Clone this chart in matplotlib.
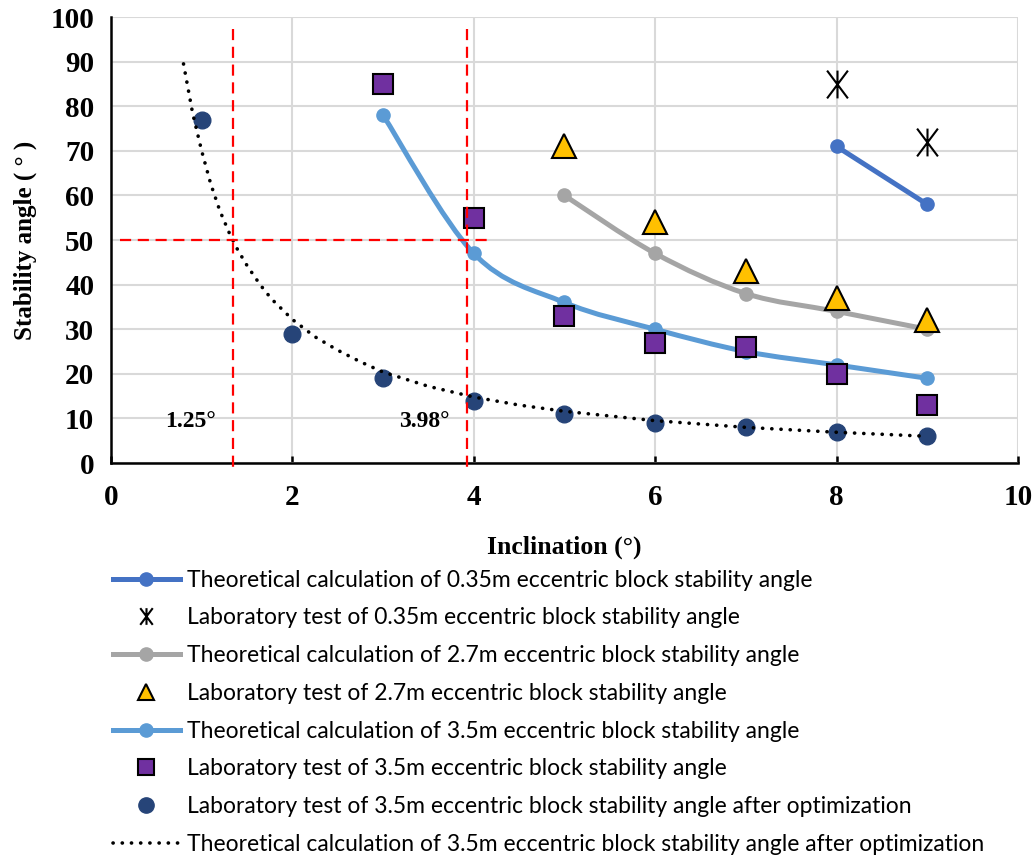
import numpy as np
import matplotlib
matplotlib.use("Agg")
import matplotlib.pyplot as plt
from matplotlib.path import Path
from matplotlib.patches import PathPatch
from matplotlib.lines import Line2D

# theoretical curves
X_035 = [8, 9]
Y_035 = [71, 58]
X_27 = [5, 6, 7, 8, 9]
Y_27 = [60, 47, 38, 34, 30]
X_35 = [3, 4, 5, 6, 7, 8, 9]
Y_35 = [78, 47, 36, 30, 25, 22, 19]

# laboratory tests
LAB_X_035 = [8, 9]
LAB_Y_035 = [85, 72]
LAB_X_27 = [5, 6, 7, 8, 9]
LAB_Y_27 = [71, 54, 43, 37, 32]
LAB_X_35 = [3, 4, 5, 6, 7, 8, 9]
LAB_Y_35 = [85, 55, 33, 27, 26, 20, 13]

# after optimization
OPT_X = [1, 2, 3, 4, 5, 6, 7, 8, 9]
OPT_Y = [77, 29, 19, 14, 11, 9, 8, 7, 6]
TREND_X = [0.8, 0.9, 1.0, 1.1, 1.2, 1.3, 1.4, 1.5, 1.6, 1.7, 1.8, 2.0, 2.25, 2.5, 2.75,
           3.0, 3.5, 4.0, 4.5, 5.0, 6.0, 7.0, 8.0, 9.0]
TREND_Y = [89.5, 78.5, 70.0, 62.6, 56.6, 51.8, 47.7, 44.3, 41.3, 38.5, 36.2, 32.2, 28.3, 25.3, 22.7,
           20.4, 17.2, 14.8, 13.0, 11.6, 9.5, 8.0, 6.9, 6.0]

CRIT_X = [1.345, 3.93]
CRIT_LABELS = ["1.25°", "3.98°"]
CRIT_Y = 50

C_035 = "#4472C4"
C_27 = "#A5A5A5"
C_35 = "#5B9BD5"
C_TRI = "#FFC000"
C_SQ = "#7030A0"
C_OPT = "#264478"

SERIF = "Liberation Serif"
DOTS = (0, (0.05, 2.5))

STAR = Path([(-0.75, -1), (0.75, 1), (-0.75, 1), (0.75, -1), (0, -1), (0, 1)],
            [Path.MOVETO, Path.LINETO, Path.MOVETO, Path.LINETO, Path.MOVETO, Path.LINETO])


def smoothPath(xs, ys):
    """Excel-like smoothed line as cubic bezier path."""
    pts = np.column_stack([xs, ys]).astype(float)
    ext = np.vstack([pts[0], pts, pts[-1]])
    verts = [pts[0]]
    codes = [Path.MOVETO]
    for i in range(len(pts) - 1):
        p0, p1, p2, p3 = ext[i], ext[i + 1], ext[i + 2], ext[i + 3]
        verts += [p1 + (p2 - p0) / 6, p2 - (p3 - p1) / 6, p2]
        codes += [Path.CURVE4] * 3
    return Path(verts, codes)


def smoothLine(ax, xs, ys, color):
    ax.add_patch(PathPatch(smoothPath(xs, ys), facecolor="none", edgecolor=color,
                           lw=3.6, capstyle="round", zorder=3))
    ax.plot(xs, ys, "o", color=color, ms=9.5, zorder=3)


fig = plt.figure(figsize=(10.35, 8.57), dpi=100)
ax = fig.add_axes([0.1072, 0.4597, 0.8763, 0.5204])

smoothLine(ax, X_035, Y_035, C_035)
smoothLine(ax, X_27, Y_27, C_27)
smoothLine(ax, X_35, Y_35, C_35)

ax.plot(LAB_X_035, LAB_Y_035, ls="none", marker=STAR, ms=20, mec="black", mew=1.5, zorder=5)
ax.plot(LAB_X_27, LAB_Y_27, ls="none", marker="^", ms=17, mfc=C_TRI, mec="black", mew=1.5, zorder=5)
ax.plot(LAB_X_35, LAB_Y_35, ls="none", marker="s", ms=15, mfc=C_SQ, mec="black", mew=1.5, zorder=5)
ax.plot(OPT_X, OPT_Y, "o", color=C_OPT, ms=12, zorder=4)
ax.plot(TREND_X, TREND_Y, color="black", ls=DOTS, lw=2.6, dash_capstyle="round", zorder=5)

# critical lines
for xc, lbl in zip(CRIT_X, CRIT_LABELS):
    ax.plot([xc, xc], [97.3, -1.5], color="red", ls=(0, (5, 3)), lw=1.6, clip_on=False, zorder=6)
    ax.text(xc - 0.47, 9.3, lbl, ha="center", va="center", fontsize=17,
            fontweight="bold", family=SERIF, zorder=7)
ax.plot([0.1, 4.15], [CRIT_Y, CRIT_Y], color="red", ls=(0, (5, 3)), lw=1.6, zorder=6)

ax.set_xlim(0, 10)
ax.set_ylim(0, 100)
ax.set_xticks(range(0, 11, 2))
ax.set_yticks(range(0, 101, 10))
ax.grid(True, color="#D9D9D9", lw=1.5)
ax.set_axisbelow(True)
for s in ["top", "right"]:
    ax.spines[s].set_visible(False)
for s in ["left", "bottom"]:
    ax.spines[s].set_linewidth(1.8)
ax.tick_params(axis="x", direction="in", length=5, width=1.8, pad=15)
ax.tick_params(axis="y", length=0, pad=12)
for t in ax.get_xticklabels() + ax.get_yticklabels():
    t.set_fontfamily(SERIF)
    t.set_fontweight("bold")
    t.set_fontsize(21)

ax.set_xlabel("Inclination (°)", fontsize=18.5, fontweight="bold", family=SERIF, labelpad=18)
ax.set_ylabel("Stability angle ( ° )", fontsize=18, fontweight="bold", family=SERIF, labelpad=10)

handles = [
    Line2D([], [], color=C_035, lw=3.6, marker="o", ms=9.5),
    Line2D([], [], ls="none", marker=STAR, ms=12, mec="black", mew=1.5),
    Line2D([], [], color=C_27, lw=3.6, marker="o", ms=9.5),
    Line2D([], [], ls="none", marker="^", ms=12, mfc=C_TRI, mec="black", mew=1.5),
    Line2D([], [], color=C_35, lw=3.6, marker="o", ms=9.5),
    Line2D([], [], ls="none", marker="s", ms=11, mfc=C_SQ, mec="black", mew=1.5),
    Line2D([], [], ls="none", marker="o", ms=11, color=C_OPT),
    Line2D([], [], color="black", ls=DOTS, lw=2.6, dash_capstyle="round"),
]
labels = [
    "Theoretical calculation of 0.35m eccentric block stability angle",
    "Laboratory test of 0.35m eccentric block stability angle",
    "Theoretical calculation of 2.7m eccentric block stability angle",
    "Laboratory test of 2.7m eccentric block stability angle",
    "Theoretical calculation of 3.5m eccentric block stability angle",
    "Laboratory test of 3.5m eccentric block stability angle",
    "Laboratory test of 3.5m eccentric block stability angle after optimization",
    "Theoretical calculation of 3.5m eccentric block stability angle after optimization",
]
fig.legend(handles, labels, loc="upper left", bbox_to_anchor=(0.1, 0.346), frameon=False,
           prop={"family": "Lato", "size": 16.5}, handlelength=2.95, handletextpad=0.3,
           labelspacing=0.73, borderaxespad=0)

fig.savefig("out.png", dpi=100)
